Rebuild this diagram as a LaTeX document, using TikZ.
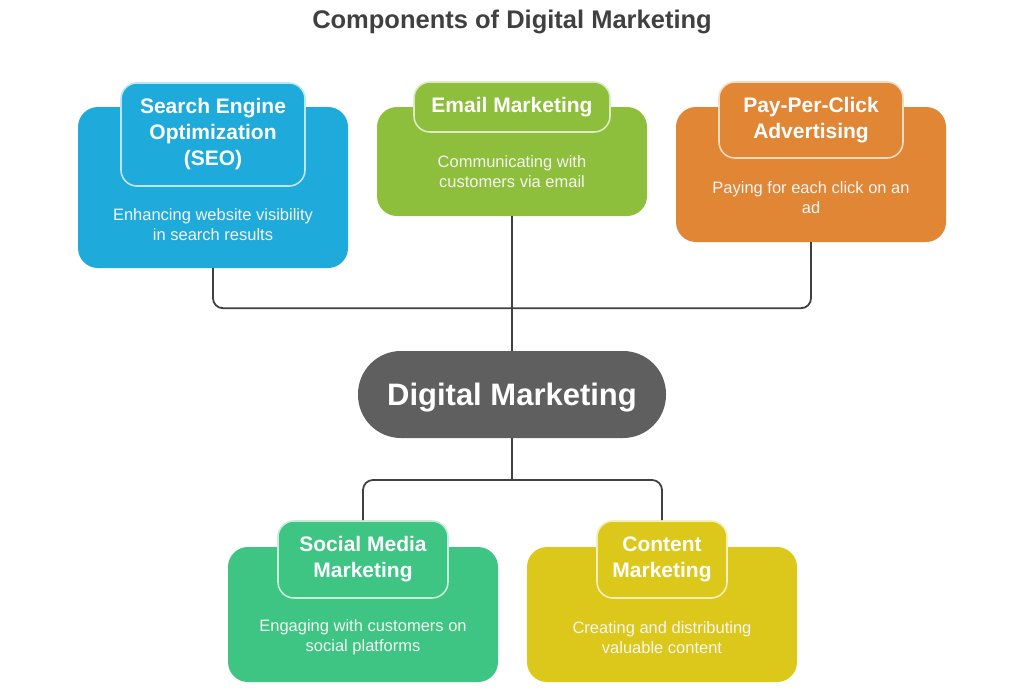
\documentclass[tikz,border=0pt]{standalone}
\usepackage{fontspec}
\setmainfont{Liberation Sans}
\usetikzlibrary{positioning}

\definecolor{seoblue}{RGB}{31,170,220}
\definecolor{mailgreen}{RGB}{141,190,60}
\definecolor{ppcorange}{RGB}{224,134,52}
\definecolor{socialgreen}{RGB}{62,196,131}
\definecolor{contentyellow}{RGB}{220,200,26}
\definecolor{hubgray}{RGB}{95,95,95}
\definecolor{linkgray}{RGB}{64,64,64}

\begin{document}
\begin{tikzpicture}[x=1pt,y=-1pt,
  card/.style={fill=#1,rounded corners=20pt,minimum width=270pt,inner sep=0pt},
  tab/.style={fill=#1,draw=white!70!#1,line width=1.6pt,rounded corners=16pt,inner sep=0pt,
    text=white,align=center,font=\bfseries\fontsize{21}{26}\selectfont},
  desc/.style={text=white!92!gray,align=center,font=\fontsize{16.5}{20}\selectfont},
  link/.style={draw=linkgray,line width=1.8pt,rounded corners=10pt}]
  \useasboundingbox (0,0) rectangle (1024,694);

  \node[text=linkgray,font=\bfseries\fontsize{25.5}{30}\selectfont] (title) at (512,22) {Components of Digital Marketing};

  % top row
  \node[card=seoblue,minimum height=161pt] (seo) at (213,187.5) {};
  \node[tab=seoblue,minimum width=184pt,minimum height=103pt] (seo-tab) at (213,134.5) {Search Engine\\Optimization\\(SEO)};
  \node[desc] (seo-desc) at (213,225) {Enhancing website visibility\\in search results};

  \node[card=mailgreen,minimum height=109pt] (mail) at (512,161.5) {};
  \node[tab=mailgreen,minimum width=196pt,minimum height=50pt] (mail-tab) at (512,107) {Email Marketing};
  \node[desc] (mail-desc) at (512,172) {Communicating with\\customers via email};

  \node[card=ppcorange,minimum height=135pt] (ppc) at (811,174.5) {};
  \node[tab=ppcorange,minimum width=184pt,minimum height=76pt] (ppc-tab) at (811,120) {Pay-Per-Click\\Advertising};
  \node[desc] (ppc-desc) at (811,198) {Paying for each click on an\\ad};

  % hub
  \node[fill=hubgray,rounded corners=43pt,minimum width=308pt,minimum height=87pt,inner sep=0pt,
    text height=28pt,text=white,font=\bfseries\fontsize{31}{36}\selectfont] (hub) at (512,394.5) {Digital Marketing};

  % bottom row
  \node[card=socialgreen,minimum height=135pt] (social) at (363,614.5) {};
  \node[tab=socialgreen,minimum width=170pt,minimum height=77pt] (social-tab) at (363,559.5) {Social Media\\Marketing};
  \node[desc] (social-desc) at (363,637.5) {Engaging with customers on\\social platforms};

  \node[card=contentyellow,minimum height=135pt] (content) at (662,614.5) {};
  \node[tab=contentyellow,minimum width=130pt,minimum height=77pt] (content-tab) at (662,559.5) {Content\\Marketing};
  \node[desc] (content-desc) at (662,637.5) {Creating and distributing\\valuable content};

  % connectors
  \draw[link] (seo.south) -- ++(0,40) -| (ppc.south);
  \draw[link] (mail.south) -- (hub.north);
  \coordinate (split) at (512,480);
  \draw[link] (hub.south) -- (split);
  \draw[link] (split) -| (social-tab.north);
  \draw[link] (split) -| (content-tab.north);
\end{tikzpicture}
\end{document}
